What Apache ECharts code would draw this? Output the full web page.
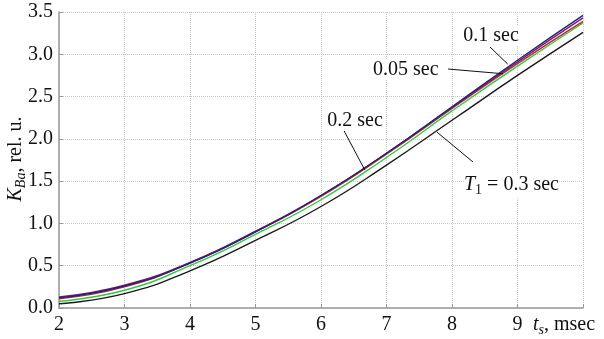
<!DOCTYPE html>
<html>
<head>
<meta charset="utf-8">
<script src="https://cdn.jsdelivr.net/npm/echarts@6/dist/echarts.min.js"></script>
<style>
  html, body { margin: 0; padding: 0; background: #fff; }
  #main { width: 604px; height: 339px; }
</style>
</head>
<body>
<div id="main"></div>
<script>
// t_s, msec
var ts = [2, 3, 4, 5, 6, 7, 8, 9, 10];
// K_Ba curves for different T1
var k005 = [0.11, 0.25, 0.53, 0.90, 1.32, 1.82, 2.36, 2.89, 3.39];
var k01  = [0.12, 0.26, 0.53, 0.90, 1.33, 1.83, 2.38, 2.93, 3.46];
var k015 = [0.13, 0.27, 0.54, 0.91, 1.33, 1.83, 2.37, 2.91, 3.43];
var k02  = [0.08, 0.21, 0.50, 0.87, 1.28, 1.78, 2.33, 2.86, 3.37];
var k03  = [0.05, 0.17, 0.44, 0.80, 1.20, 1.69, 2.22, 2.75, 3.26];

var yTicks = ['0.0', '0.5', '1.0', '1.5', '2.0', '2.5', '3.0', '3.5'];

var font = "'Liberation Serif', 'Times New Roman', serif";

function pairs(ys) {
    return ts.map(function (t, i) { return [t, ys[i]]; });
}

function curve(name, ys, color) {
    return {
        name: name,
        type: 'line',
        data: pairs(ys),
        smooth: true,
        symbol: 'none',
        lineStyle: { color: color, width: 1.4 }
    };
}

var mychart = echarts.init(document.getElementById('main'));

option = {
    animation: false,
    grid: { left: 59, right: 21, top: 12, bottom: 31 },
    xAxis: {
        type: 'value',
        min: 2,
        max: 10,
        interval: 1,
        axisLine: { lineStyle: { color: '#999', width: 1.5 } },
        axisTick: { inside: true, length: 4, lineStyle: { color: '#999' } },
        splitLine: { lineStyle: { color: '#c8c8c8', type: 'dotted' } },
        axisLabel: {
            margin: 7,
            color: '#111',
            fontFamily: font,
            fontSize: 20,
            formatter: function (v) { return v === 10 ? '' : String(v); }
        }
    },
    yAxis: {
        type: 'value',
        min: 0,
        max: 3.5,
        interval: 0.5,
        axisLine: { show: true, lineStyle: { color: '#999', width: 1.5 } },
        axisTick: { show: true, inside: true, length: 4, lineStyle: { color: '#999' } },
        splitLine: { lineStyle: { color: '#c8c8c8', type: 'dotted' } },
        axisLabel: {
            margin: 6,
            color: '#111',
            fontFamily: font,
            fontSize: 20,
            formatter: function (v) { return yTicks[Math.round(v * 2)]; }
        }
    },
    series: [
        curve('0.3 sec', k03, '#1a1a1a'),
        curve('0.2 sec', k02, '#2ecc40'),
        curve('0.05 sec', k005, '#c0282a'),
        curve('0.15 sec', k015, '#7a1a7a'),
        curve('0.1 sec', k01, '#23237a')
    ]
};
mychart.setOption(option);

// annotations: text + leader line pointing to a curve
function tip(x, y) { return mychart.convertToPixel({ gridIndex: 0 }, [x, y]); }

var notes = [
    { from: [490, 47], to: tip(8.85, 2.885) },
    { from: [448, 69], to: tip(8.78, 2.77) },
    { from: [342, 127], to: tip(6.67, 1.63) },
    { from: [473, 162], to: tip(7.77, 2.08) }
];

var graphics = notes.map(function (n) {
    return {
        type: 'line',
        shape: { x1: n.from[0], y1: n.from[1], x2: n.to[0], y2: n.to[1] },
        style: { stroke: '#111', lineWidth: 1 },
        z: 10
    };
});

function label(x, y, text, align, rich) {
    return {
        type: 'text',
        x: x, y: y,
        z: 11,
        style: {
            text: text,
            fill: '#111',
            font: '20px ' + font,
            align: align,
            verticalAlign: 'middle',
            backgroundColor: '#fff',
            rich: rich
        }
    };
}

graphics.push(label(491, 36, '0.1 sec', 'center'));
graphics.push(label(373, 70, '0.05 sec', 'left'));
graphics.push(label(355, 121, '0.2 sec', 'center'));
graphics.push(label(464, 185, '{i|T}{s|1}{n| = 0.3 sec}', 'left', {
    i: { fontFamily: font, fontSize: 20, fontStyle: 'italic', fill: '#111' },
    s: { fontFamily: font, fontSize: 14, padding: [10, 0, 0, 0], fill: '#111' },
    n: { fontFamily: font, fontSize: 20, fill: '#111' }
}));
// x axis name in place of the last tick label
graphics.push(label(533, 325, '{i|t}{s|s}{n|, msec}', 'left', {
    i: { fontFamily: font, fontSize: 20, fontStyle: 'italic', fill: '#111' },
    s: { fontFamily: font, fontSize: 14, fontStyle: 'italic', padding: [10, 0, 0, 0], fill: '#111' },
    n: { fontFamily: font, fontSize: 20, fill: '#111' }
}));
// y axis name, rotated
var yName = label(16, 159, '{i|K}{s|Ba}{n|, rel. u.}', 'center', {
    i: { fontFamily: font, fontSize: 20, fontStyle: 'italic', fill: '#111' },
    s: { fontFamily: font, fontSize: 14, fontStyle: 'italic', padding: [10, 0, 0, 0], fill: '#111' },
    n: { fontFamily: font, fontSize: 20, fill: '#111' }
});
yName.rotation = Math.PI / 2;
yName.style.backgroundColor = null;
graphics.push(yName);

mychart.setOption({ graphic: graphics });
</script>
</body>
</html>
